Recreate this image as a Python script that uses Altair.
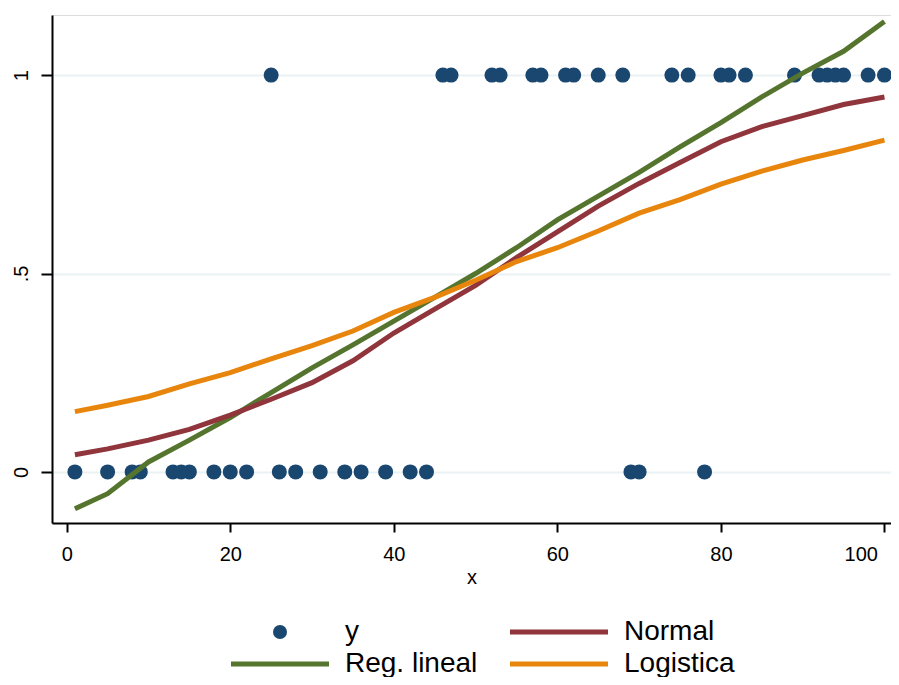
import altair as alt
import pandas as pd

# Observations (binary outcome)
x_y0 = [1, 5, 8, 9, 13, 14, 15, 18, 20, 22, 26, 28, 31, 34, 36, 39, 42, 44, 69, 70, 78]
x_y1 = [25, 46, 47, 52, 53, 57, 58, 61, 62, 65, 68, 74, 76, 80, 81, 83, 89, 92, 93, 94, 95, 98, 100]

# Fitted curves
fit_x = [1, 5, 10, 15, 20, 25, 30, 35, 40, 45, 50, 55, 60, 65, 70, 75, 80, 85, 90, 95, 100]
fit_lineal = [-0.093, -0.055, 0.025, 0.08, 0.137, 0.20, 0.262, 0.32, 0.38, 0.44, 0.50, 0.565,
              0.635, 0.695, 0.755, 0.819, 0.88, 0.945, 1.005, 1.06, 1.135]
fit_normal = [0.043, 0.058, 0.08, 0.107, 0.143, 0.183, 0.225, 0.28, 0.35, 0.41, 0.47, 0.54,
              0.605, 0.67, 0.727, 0.78, 0.832, 0.87, 0.898, 0.926, 0.945]
fit_logit = [0.152, 0.168, 0.19, 0.222, 0.25, 0.285, 0.318, 0.355, 0.402, 0.44, 0.483, 0.53,
             0.565, 0.607, 0.652, 0.686, 0.725, 0.758, 0.786, 0.81, 0.836]

series = ["y", "Normal", "Reg. lineal", "Logistica"]
colors = ["#1a476f", "#90353b", "#55752f", "#e8850c"]
BAR = "M-7,-0.36H7V0.36H-7Z"
shapes = ["circle", BAR, BAR, BAR]

pts = pd.DataFrame({
    "x": x_y0 + x_y1,
    "val": [0] * len(x_y0) + [1] * len(x_y1),
    "serie": ["y"] * (len(x_y0) + len(x_y1)),
})

rows = []
for name, vals in [("Reg. lineal", fit_lineal), ("Normal", fit_normal), ("Logistica", fit_logit)]:
    for xv, yv in zip(fit_x, vals):
        rows.append({"x": xv, "val": yv, "serie": name})
lines = pd.DataFrame(rows)

FONT = "Liberation Sans"

xscale = alt.Scale(domain=[-1.8, 100.8], nice=False, zero=False)
yscale = alt.Scale(domain=[-0.1288, 1.1515], nice=False, zero=False)

legend = alt.Legend(
    title=None,
    orient="none",
    legendX=214,
    legendY=603,
    columns=2,
    direction="horizontal",
    labelFont=FONT,
    labelFontSize=28,
    labelColor="black",
    labelOffset=51,
    columnPadding=32,
    rowPadding=4,
    symbolSize=196,
    symbolOpacity=1,
    symbolStrokeWidth=0,
)

xaxis = alt.Axis(
    values=[0, 20, 40, 60, 80, 100], title="x", grid=False,
    labelFont=FONT, labelFontSize=20, titleFont=FONT, titleFontSize=20,
    titleFontWeight="normal", titleColor="black", labelColor="black",
    domainColor="black", domainWidth=2, tickColor="black", tickWidth=2, tickSize=9,
    labelPadding=12, titlePadding=3,
    labelFlush=10, labelFlushOffset=-7,
)
yaxis = alt.Axis(
    values=[0, 0.5, 1], title=None, grid=True, gridColor="#eaf2f3", gridWidth=2,
    labelExpr="datum.value == 0 ? '0' : (datum.value == 1 ? '1' : '.5')",
    labelAngle=270, labelFont=FONT, labelFontSize=20, labelColor="black",
    domainColor="black", domainWidth=2, tickColor="black", tickWidth=2, tickSize=11,
    labelPadding=10,
)

points = alt.Chart(pts).mark_point(size=225, filled=True, opacity=1).encode(
    x=alt.X("x:Q", scale=xscale, axis=xaxis),
    y=alt.Y("val:Q", scale=yscale, axis=yaxis),
    color=alt.Color("serie:N", scale=alt.Scale(domain=series, range=colors), legend=legend),
    shape=alt.Shape("serie:N", scale=alt.Scale(domain=series, range=shapes), legend=legend),
)

curves = alt.Chart(lines).mark_line(strokeWidth=5, clip=True).encode(
    x=alt.X("x:Q", scale=xscale),
    y=alt.Y("val:Q", scale=yscale),
    color=alt.Color("serie:N", scale=alt.Scale(domain=series, range=colors), legend=None),
    detail="serie:N",
)

chart = alt.layer(points, curves).properties(
    width=839, height=508,
    padding={"left": 44, "top": 7, "right": 0, "bottom": 154},
    autosize=alt.AutoSizeParams(type="none"),
).configure_view(stroke=None).configure(background="white")

chart.save("out.html", embed_options={"renderer": "svg", "actions": False})
